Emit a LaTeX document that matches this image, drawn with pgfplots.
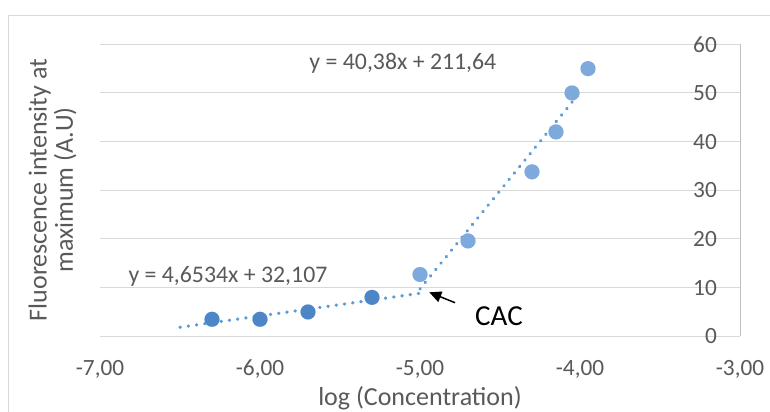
\documentclass[border=0pt]{standalone}
\usepackage{fontspec}
\setmainfont{Carlito}
\usepackage{pgfplots}
\pgfplotsset{compat=1.18}
\usetikzlibrary{arrows.meta}
\definecolor{gridc}{HTML}{D9D9D9}
\definecolor{axc}{HTML}{BFBFBF}
\definecolor{txt}{HTML}{595959}
\definecolor{darkpt}{HTML}{4C86C6}
\definecolor{lightpt}{HTML}{7DA9DD}
\definecolor{trend}{HTML}{5B9BD5}
\begin{document}
\begin{tikzpicture}[x=1bp,y=1bp]
\path[use as bounding box] (-100,-74.7) rectangle (670,336.3);
\draw[gridc, line width=1bp] (-91,-90) -- (-91,321.3) -- (690,321.3);
\begin{axis}[
  at={(0,0)}, anchor=south west,
  scale only axis, width=640bp, height=292bp,
  xmin=-7, xmax=-3, ymin=0, ymax=60,
  xtick={-7,-6,-5,-4,-3}, ytick={0,10,...,60},
  axis line style={draw=none},
  major tick length=0pt,
  ymajorgrids, grid style={gridc, line width=1bp},
  tick label style={font=\fontsize{23.3bp}{28bp}\selectfont, text=txt, inner sep=0pt},
  xticklabel style={anchor=north, yshift=-23.7bp, /pgf/number format/.cd, fixed, fixed zerofill, precision=2, use comma, assume math mode=true},
  yticklabel pos=right,
  yticklabel style={anchor=east, xshift=-23bp, /pgf/number format/assume math mode=true},
  clip=false,
]
\draw[axc, line width=1bp] (axis cs:-3,0) -- (axis cs:-3,60);
\addplot[color=darkpt, only marks, mark=*, mark size=7.5bp, mark options={solid, fill=darkpt, draw=darkpt, line width=0.1bp}]
  coordinates {(-6.3,3.5) (-6.0,3.5) (-5.7,5.0) (-5.3,8.0)};
\addplot[color=lightpt, only marks, mark=*, mark size=7.5bp, mark options={solid, fill=lightpt, draw=lightpt, line width=0.1bp}]
  coordinates {(-5.0,12.7) (-4.7,19.6) (-4.3,33.8) (-4.15,42.0) (-4.05,50.0) (-3.95,55.0)};
\addplot[trend, no markers, line width=3.4bp, line cap=round, dash pattern=on 0.3bp off 8bp]
  coordinates {(-6.5,1.86) (-5.0,8.84)};
\addplot[trend, no markers, line width=3.4bp, line cap=round, dash pattern=on 0.3bp off 8bp]
  coordinates {(-5.0,9.74) (-3.99,50.52)};
\node[anchor=base west, font=\fontsize{23.8bp}{28bp}\selectfont, text=txt, inner sep=0pt]
  at (axis cs:-5.692,54.86) {y = 40,38x + 211,64};
\node[anchor=base west, font=\fontsize{23.8bp}{28bp}\selectfont, text=txt, inner sep=0pt]
  at (axis cs:-6.823,11.09) {y = 4,6534x + 32,107};
\node[anchor=base west, font=\fontsize{29bp}{34bp}\selectfont, text=black, inner sep=0pt]
  at (axis cs:-4.656,2.12) {CAC};
\draw[-{Triangle[length=12bp,width=11bp]}, line width=1.5bp, black]
  (axis cs:-4.781,6.90) -- (axis cs:-4.942,9.04);
\end{axis}
\node[rotate=90, anchor=base, font=\fontsize{26bp}{31bp}\selectfont, text=txt, inner sep=0pt]
  at (-53.3,146.3) {Fluorescence intensity at};
\node[rotate=90, anchor=base, font=\fontsize{26bp}{31bp}\selectfont, text=txt, inner sep=0pt]
  at (-27,146.3) {maximum (A.U)};
\node[anchor=base, font=\fontsize{26bp}{31bp}\selectfont, text=txt, inner sep=0pt]
  at (320,-68.7) {log (Concentration)};
\end{tikzpicture}
\end{document}
